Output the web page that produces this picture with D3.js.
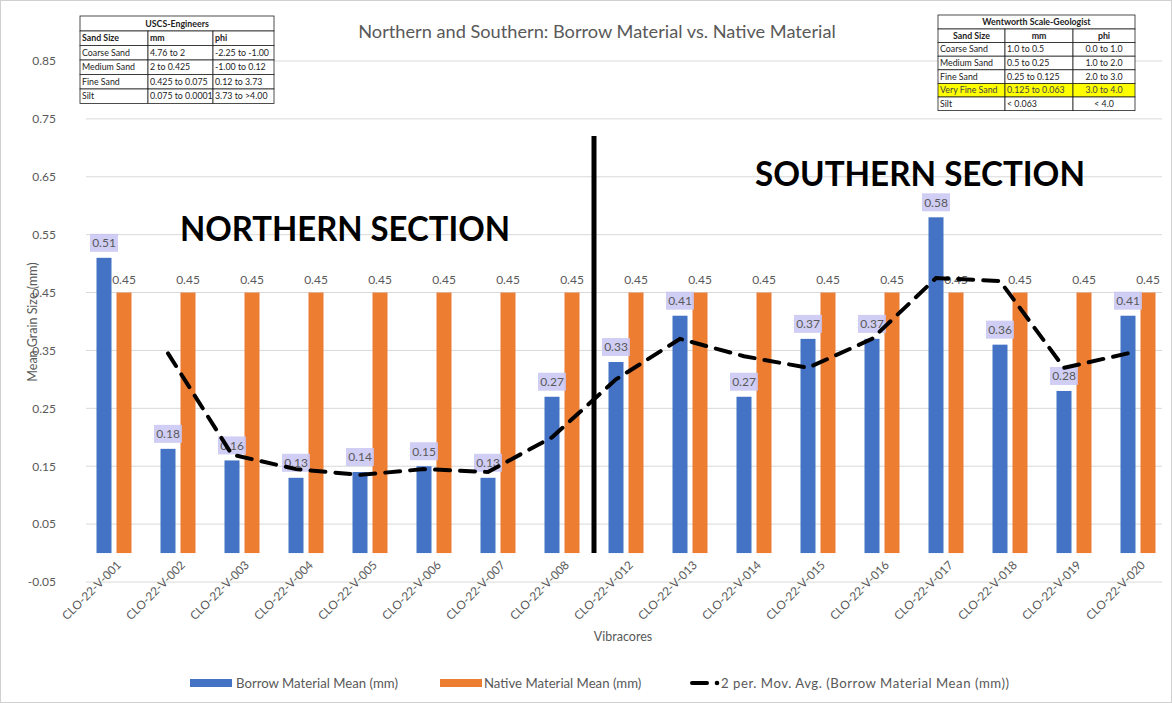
<!DOCTYPE html>
<html>
<head>
<meta charset="utf-8">
<script src="https://cdn.jsdelivr.net/npm/d3@7/dist/d3.min.js"></script>
<style>
  html, body { margin: 0; padding: 0; background: #fff; }
  svg { display: block; font-family: Lato, "Open Sans", sans-serif; }
</style>
</head>
<body>
<svg id="chart" width="1172" height="703"></svg>
<script>
// Vibracore sample IDs (categories)
const vibracores = [
  "CLO-22-V-001", "CLO-22-V-002", "CLO-22-V-003", "CLO-22-V-004", "CLO-22-V-005",
  "CLO-22-V-006", "CLO-22-V-007", "CLO-22-V-008", "CLO-22-V-012", "CLO-22-V-013",
  "CLO-22-V-014", "CLO-22-V-015", "CLO-22-V-016", "CLO-22-V-017", "CLO-22-V-018",
  "CLO-22-V-019", "CLO-22-V-020"
];
// Mean grain size (mm) of borrow material at each vibracore
const borrowMean = [0.51, 0.18, 0.16, 0.13, 0.14, 0.15, 0.13, 0.27, 0.33, 0.41,
                    0.27, 0.37, 0.37, 0.58, 0.36, 0.28, 0.41];
// Mean grain size (mm) of native beach material
const nativeMean = [0.45, 0.45, 0.45, 0.45, 0.45, 0.45, 0.45, 0.45, 0.45, 0.45,
                    0.45, 0.45, 0.45, 0.45, 0.45, 0.45, 0.45];
// Y axis tick values
const yTicks = [-0.05, 0.05, 0.15, 0.25, 0.35, 0.45, 0.55, 0.65, 0.75, 0.85];
// First sample of the southern section
const southStart = "CLO-22-V-012";

// Reference tables of grain size classes
const uscsTitle = "USCS-Engineers";
const uscsHeader = ["Sand Size", "mm", "phi"];
const uscsRows = [
  ["Coarse Sand", "4.76 to 2", "-2.25 to -1.00"],
  ["Medium Sand", "2 to 0.425", "-1.00 to 0.12"],
  ["Fine Sand", "0.425 to 0.075", "0.12 to 3.73"],
  ["Silt", "0.075 to 0.0001", "3.73 to >4.00"]
];
const wentTitle = "Wentworth Scale-Geologist";
const wentHeader = ["Sand Size", "mm", "phi"];
const wentRows = [
  ["Coarse Sand", "1.0 to 0.5", "0.0 to 1.0"],
  ["Medium Sand", "0.5 to 0.25", "1.0 to 2.0"],
  ["Fine Sand", "0.25 to 0.125", "2.0 to 3.0"],
  ["Very Fine Sand", "0.125 to 0.063", "3.0 to 4.0"],
  ["Silt", "< 0.063", "< 4.0"]
];
const wentHighlight = "Very Fine Sand";

const BLUE = "#4472c4", ORANGE = "#ed7d31", GREY = "#595959", GRID = "#d9d9d9";
const fmt = v => d3.format(".2f")(v).replace("\u2212", "-");

const svg = d3.select("#chart");

// outer frame
svg.append("rect").attr("x", 0.5).attr("y", 0.5).attr("width", 1171).attr("height", 702)
  .attr("fill", "#fff").attr("stroke", "#d0d0d0");

const x = d3.scaleBand().domain(vibracores).range([82, 1170]).padding(0);
const sub = d3.scaleBand().domain(["borrow", "native"]).range([0, 35]).paddingInner(0.25);
const groupOffset = (x.bandwidth() - 35) / 2;
const y = d3.scaleLinear().domain([-0.05, 0.85]).range([582, 61]);

// gridlines
const gridG = svg.append("g");
yTicks.forEach(t => {
  gridG.append("line")
    .attr("x1", 86).attr("x2", 1162)
    .attr("y1", y(t)).attr("y2", y(t))
    .attr("stroke", GRID).attr("stroke-width", 1);
});

// y axis labels
const yAxis = d3.axisLeft(y).tickValues(yTicks).tickSize(0).tickPadding(0).tickFormat(fmt);
svg.append("g").attr("transform", "translate(56,0)").call(yAxis)
  .call(g => g.select(".domain").remove())
  .call(g => g.selectAll(".tick line").remove())
  .call(g => g.selectAll("text").attr("fill", GREY).attr("font-size", 12)
    .attr("font-family", "Lato, sans-serif"));

// bars
const groups = svg.append("g").selectAll("g").data(vibracores).join("g")
  .attr("transform", d => `translate(${x(d) + groupOffset},0)`);

groups.append("rect")
  .attr("x", sub("borrow")).attr("width", sub.bandwidth())
  .attr("y", (d, i) => y(borrowMean[i]))
  .attr("height", (d, i) => y(0) - y(borrowMean[i]))
  .attr("fill", BLUE);
groups.append("rect")
  .attr("x", sub("native")).attr("width", sub.bandwidth())
  .attr("y", (d, i) => y(nativeMean[i]))
  .attr("height", (d, i) => y(0) - y(nativeMean[i]))
  .attr("fill", ORANGE);

// native value labels
groups.append("text")
  .attr("x", sub("native") + sub.bandwidth() / 2)
  .attr("y", (d, i) => y(nativeMean[i]) - 9)
  .attr("text-anchor", "middle").attr("font-size", 12).attr("fill", GREY)
  .text((d, i) => fmt(nativeMean[i]));

// section divider
const divX = x(southStart);
svg.append("line").attr("x1", divX).attr("x2", divX)
  .attr("y1", 136).attr("y2", y(0))
  .attr("stroke", "#000").attr("stroke-width", 5);

// 2-period moving average of borrow material
const movAvg = d3.pairs(borrowMean, (a, b) => (a + b) / 2);
const lineGen = d3.line()
  .x((d, i) => x(vibracores[i + 1]) + groupOffset + sub("borrow") + sub.bandwidth() / 2)
  .y(d => y(d));
svg.append("path").datum(movAvg).attr("d", lineGen)
  .attr("fill", "none").attr("stroke", "#000").attr("stroke-width", 4)
  .attr("stroke-dasharray", "15,10").attr("stroke-linecap", "round");

// borrow value labels with shaded boxes
const bl = groups.append("g")
  .attr("transform", (d, i) =>
    `translate(${sub("borrow") + sub.bandwidth() / 2},${y(borrowMean[i]) - 15})`);
bl.append("rect").attr("x", -14).attr("y", -9).attr("width", 28).attr("height", 18)
  .attr("fill", "#c8c6f2").attr("opacity", 0.85);
bl.append("text").attr("text-anchor", "middle").attr("dy", "0.36em")
  .attr("font-size", 12).attr("fill", GREY)
  .text((d, i) => fmt(borrowMean[i]));

// x axis category labels
const xAxis = d3.axisBottom(x).tickSize(0).tickPadding(0);
svg.append("g").attr("transform", "translate(0,556)").call(xAxis)
  .call(g => g.select(".domain").remove())
  .call(g => g.selectAll(".tick line").remove())
  .call(g => g.selectAll("text")
    .attr("font-size", 11.8).attr("fill", GREY).attr("font-family", "Lato, sans-serif")
    .attr("text-anchor", "end").attr("dy", "0.35em")
    .attr("transform", "translate(5,7) rotate(-45)"));

// titles
svg.append("text").attr("x", 597).attr("y", 38).attr("text-anchor", "middle")
  .attr("font-size", 18.2).attr("fill", GREY)
  .text("Northern and Southern: Borrow Material vs. Native Material");
svg.append("text").attr("x", 623).attr("y", 641).attr("text-anchor", "middle")
  .attr("font-size", 12.5).attr("fill", GREY).text("Vibracores");
svg.append("text").attr("transform", "translate(37,322) rotate(-90)")
  .attr("text-anchor", "middle").attr("font-size", 12.5).attr("fill", GREY)
  .text("Mean Grain Size (mm)");

// section headings
svg.append("text").attr("x", 180).attr("y", 241)
  .attr("font-size", 35).attr("font-weight", 700).attr("fill", "#000")
  .attr("textLength", 330).attr("lengthAdjust", "spacingAndGlyphs")
  .text("NORTHERN SECTION");
svg.append("text").attr("x", 755).attr("y", 186)
  .attr("font-size", 35).attr("font-weight", 700).attr("fill", "#000")
  .attr("textLength", 330).attr("lengthAdjust", "spacingAndGlyphs")
  .text("SOUTHERN SECTION");

// legend
const lg = svg.append("g").attr("font-size", 13.2).attr("fill", GREY);
lg.append("rect").attr("x", 190).attr("y", 679).attr("width", 42).attr("height", 8).attr("fill", BLUE);
lg.append("text").attr("x", 236).attr("y", 688).text("Borrow Material Mean (mm)");
lg.append("rect").attr("x", 440).attr("y", 679).attr("width", 42).attr("height", 8).attr("fill", ORANGE);
lg.append("text").attr("x", 484).attr("y", 688).text("Native Material Mean (mm)");
lg.append("line").attr("x1", 692).attr("x2", 707).attr("y1", 683).attr("y2", 683)
  .attr("stroke", "#000").attr("stroke-width", 4).attr("stroke-linecap", "round");
lg.append("circle").attr("cx", 717).attr("cy", 683).attr("r", 2.3).attr("fill", "#000");
lg.append("text").attr("x", 721).attr("y", 688)
  .attr("textLength", 288).attr("lengthAdjust", "spacing")
  .text("2 per. Mov. Avg. (Borrow Material Mean (mm))");

// reference tables
function drawTable(opts) {
  const { x0, y0, colW, rowH, title, header, rows, highlight, align } = opts;
  const totalW = d3.sum(colW);
  const g = svg.append("g").attr("font-size", 8.8).attr("fill", "#222");
  const colX = [x0];
  colW.forEach((w, i) => colX.push(colX[i] + w));
  const allRows = [header].concat(rows);
  g.append("rect").attr("x", x0).attr("y", y0).attr("width", totalW)
    .attr("height", rowH[0] + rowH[1] * allRows.length).attr("fill", "#fff");
  g.append("rect").attr("x", x0).attr("y", y0).attr("width", totalW).attr("height", rowH[0])
    .attr("fill", "#fff").attr("stroke", "#222").attr("stroke-width", 0.8);
  g.append("text").attr("x", x0 + totalW / 2).attr("y", y0 + rowH[0] / 2)
    .attr("dy", "0.35em").attr("text-anchor", "middle").attr("font-weight", 700)
    .text(title);
  allRows.forEach((r, ri) => {
    const ry = y0 + rowH[0] + ri * rowH[1];
    const hl = highlight && r[0] === highlight;
    r.forEach((cell, ci) => {
      g.append("rect").attr("x", colX[ci]).attr("y", ry).attr("width", colW[ci]).attr("height", rowH[1])
        .attr("fill", hl ? "#ffff00" : "#fff").attr("stroke", "#222").attr("stroke-width", 0.8);
      const a = ri === 0 ? align.header[ci] : align.body[ci];
      const tx = a === "middle" ? colX[ci] + colW[ci] / 2 : colX[ci] + 2;
      g.append("text").attr("x", tx).attr("y", ry + rowH[1] / 2).attr("dy", "0.35em")
        .attr("text-anchor", a).attr("font-weight", ri === 0 ? 700 : 400)
        .attr("fill", hl ? "#444" : "#222")
        .text(cell);
    });
  });
}

drawTable({
  x0: 80, y0: 16, colW: [68, 65, 61], rowH: [15, 14.5],
  title: uscsTitle, header: uscsHeader, rows: uscsRows, highlight: null,
  align: { header: ["start", "start", "start"], body: ["start", "start", "start"] }
});
drawTable({
  x0: 938, y0: 15, colW: [67, 68, 62], rowH: [14, 13.6],
  title: wentTitle, header: wentHeader, rows: wentRows, highlight: wentHighlight,
  align: { header: ["middle", "middle", "middle"], body: ["start", "start", "middle"] }
});
</script>
</body>
</html>
